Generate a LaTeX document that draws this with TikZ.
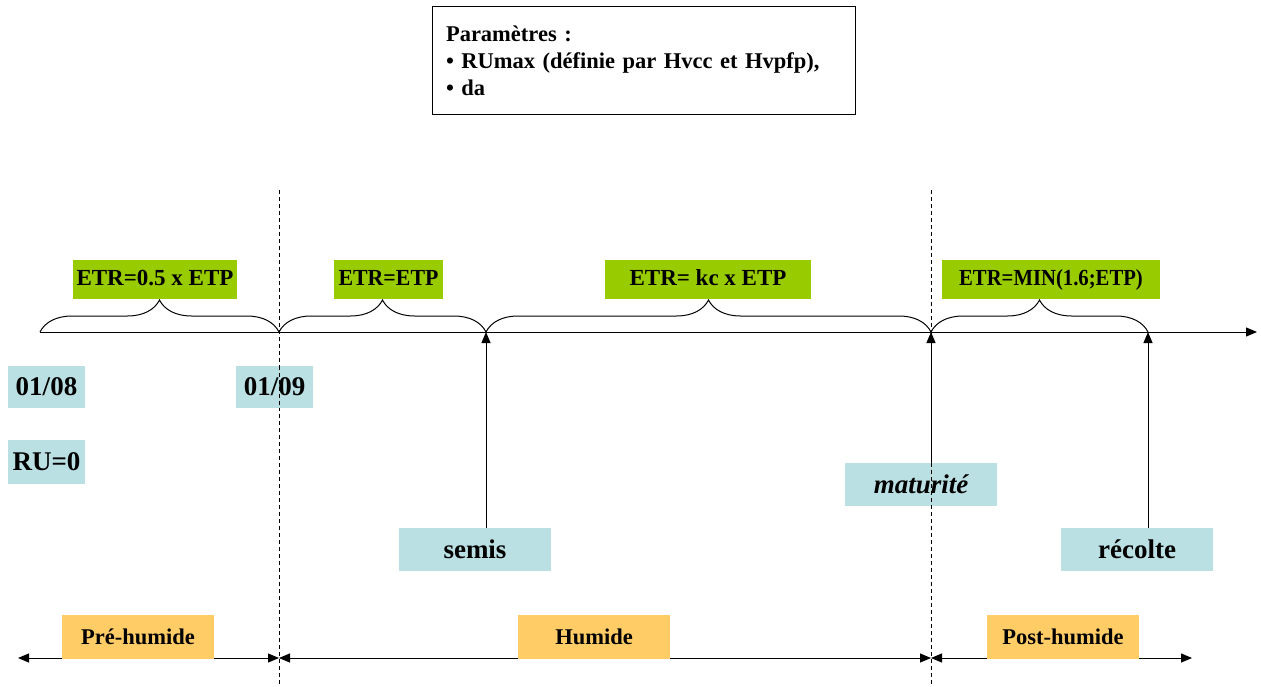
\documentclass[tikz,border=0pt]{standalone}
\usepackage{fontspec}
\setmainfont{Liberation Serif}
\usetikzlibrary{decorations.pathreplacing,arrows.meta}
\definecolor{etrgreen}{RGB}{153,204,0}
\definecolor{lblue}{RGB}{187,224,227}
\definecolor{lorange}{RGB}{255,204,102}
\begin{document}
\begin{tikzpicture}[x=1pt,y=-1pt,line width=1pt,
  tip/.style={-{Triangle[length=11pt,width=9pt]}},
  dtip/.style={{Triangle[length=11pt,width=9pt]}-{Triangle[length=11pt,width=9pt]}},
  etr/.style={fill=etrgreen, minimum height=39pt, inner sep=0pt, text height=15.5pt, text depth=4.5pt, font=\fontsize{23}{27}\selectfont\bfseries},
  lab/.style={fill=lblue, minimum width=152pt, minimum height=43pt, inner sep=0pt, font=\fontsize{27}{32}\selectfont\bfseries},
  datebox/.style={fill=lblue, minimum width=77pt, inner sep=0pt, font=\fontsize{27}{32}\selectfont\bfseries},
  phase/.style={fill=lorange, minimum width=152pt, minimum height=44pt, inner sep=0pt, font=\fontsize{22.5}{26}\selectfont\bfseries},
  brc/.style={decorate, decoration={brace, amplitude=32pt}},
  sep/.style={dash pattern=on 4pt off 3pt, line width=0.8pt}]
\useasboundingbox (0,0) rectangle (1261,687);

% parameters box
\node[draw, minimum width=423pt, minimum height=108pt, text width=395pt, align=left, inner sep=0pt,
  font=\fontsize{22.5}{27}\selectfont\bfseries] (params) at (643.5,61)
  {Paramètres :\\ • RUmax (définie par Hvcc et Hvpfp),\\ • da};

% axis coordinates
\coordinate (a0) at (40,332);
\coordinate (a1) at (279,332);
\coordinate (a2) at (486,332);
\coordinate (a3) at (931,332);
\coordinate (a4) at (1148,332);
\coordinate (aend) at (1257,332);

% dashed separators
\coordinate (d1t) at (279,190);
\coordinate (d1b) at (279,687);
\coordinate (d2t) at (931,190);
\coordinate (d2b) at (931,687);
\draw[sep] (d1t) -- (d1b);
\draw[sep] (d2t) -- (d2b);

% axis
\draw[tip] (a0) -- (aend);

% braces
\draw[brc] (a0) -- (a1);
\draw[brc] (a1) -- (a2);
\draw[brc] (a2) -- (a3);
\draw[brc] (a3) -- (a4);

% ETR labels
\node[etr, minimum width=164pt] (etr1) at (155,279.5) {ETR=0.5 x ETP};
\node[etr, minimum width=109pt] (etr2) at (388.5,279.5) {\scalebox{0.95}[1]{ETR=ETP}};
\node[etr, minimum width=206pt] (etr3) at (708,279.5) {ETR= kc x ETP};
\node[etr, minimum width=218pt] (etr4) at (1051,279.5) {\scalebox{0.9}[1]{ETR=MIN(1.6;ETP)}};

% dates
\node[datebox, minimum height=42pt] (d0108) at (46.5,387) {01/08};
\node[datebox, minimum height=42pt] (d0109) at (274.5,387) {01/09};
\node[datebox, minimum height=44pt] (ru) at (46.5,462) {RU=0};
\draw[sep] (d0109.north -| d1t) -- (d0109.south -| d1t);

% events
\node[lab] (semis) at (475,549.5) {semis};
\node[lab] (matur) at (921,484.5) {\itshape maturité};
\node[lab] (recolte) at (1137,549.5) {récolte};
\draw[sep] (matur.north -| d2t) -- (matur.south -| d2t);

\draw[tip] (semis.north -| a2) -- (a2);
\draw[tip] (matur.north -| a3) -- (a3);
\draw[tip] (recolte.north -| a4) -- (a4);

% phases
\coordinate (b0) at (18,658);
\coordinate (b1) at (279,658);
\coordinate (b2) at (931,658);
\coordinate (b3) at (1192,658);
\draw[dtip] (b1) -- (b0);
\draw[dtip] (b1) -- (b2);
\draw[dtip] (b2) -- (b3);
\node[phase] (pre) at (138,637) {Pré-humide};
\node[phase] (hum) at (594,637) {Humide};
\node[phase] (post) at (1063,637) {Post-humide};
\end{tikzpicture}
\end{document}
